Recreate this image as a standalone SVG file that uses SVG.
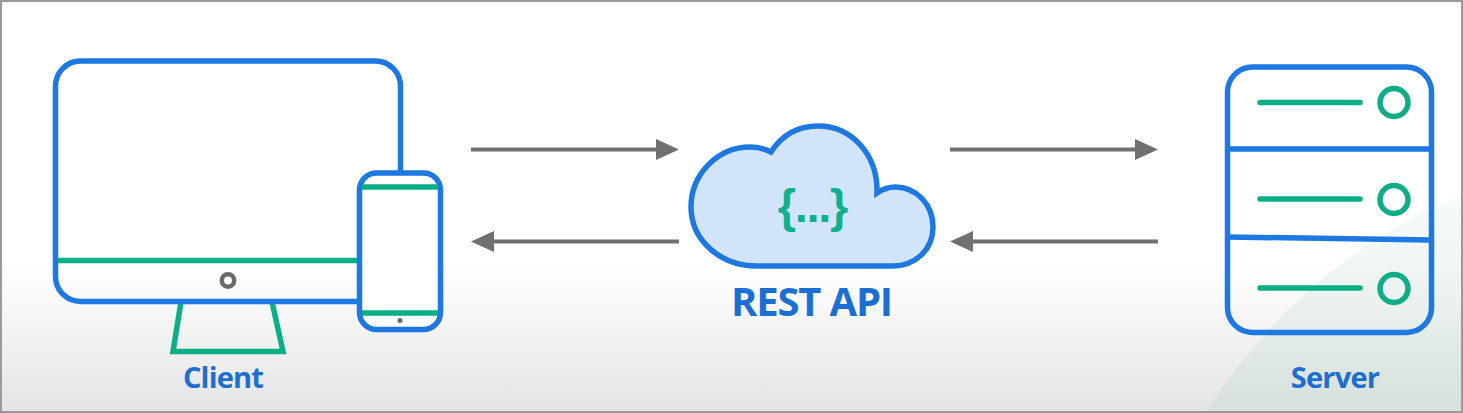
<svg xmlns="http://www.w3.org/2000/svg" width="1463" height="413" viewBox="0 0 1463 413">
<style>
.b{fill:none;stroke:#1e78e2;stroke-width:5.500}
.g{fill:none;stroke:#0cae88;stroke-width:5.500}
.gr{fill:none;stroke:#0cae88;stroke-width:5.500;stroke-linecap:round}
.c{fill:none;stroke:#707070;stroke-width:4}
text{font-family:"Open Sans","Noto Sans",sans-serif;fill:#1c6fd2;text-anchor:middle}
.l{font-size:29px;font-weight:700;letter-spacing:-.8px}
.t{font-size:40px;font-weight:700;letter-spacing:-1.200px}
.j{font-family:"Liberation Sans",Arial,sans-serif;font-size:47px;font-weight:700;letter-spacing:-1.300px;fill:#10b08c}
</style>
<defs>
<linearGradient id="bg" x1="0" y1="0" x2="0" y2="1"><stop offset="0" stop-color="#fff"/><stop offset=".64" stop-color="#fff"/><stop offset="1" stop-color="#e3e4e5"/></linearGradient>
<linearGradient id="sw" x1="0" y1="0" x2="0" y2="1"><stop offset="0" stop-color="#eef8f4" stop-opacity=".6"/><stop offset=".5" stop-color="#e6efeb" stop-opacity=".8"/><stop offset="1" stop-color="#d6dfdb"/></linearGradient>
<marker id="ah" markerUnits="userSpaceOnUse" markerWidth="24" markerHeight="22" refX="13" refY="11" orient="auto-start-reverse"><path d="M0 .5L23 11L0 21.500Z" fill="#707070"/></marker>
</defs>
<rect width="1463" height="413" fill="url(#bg)"/>
<path d="M1205 413C1265 320 1350 240 1463 195V413Z" fill="url(#sw)"/>
<rect x="1" y="1" width="1461" height="411" fill="none" stroke="#9a9a9e" stroke-width="2"/>
<g id="connectors">
<path class="c" d="M471 149.500H669" marker-end="url(#ah)"/>
<path class="c" d="M679 241.500H481" marker-end="url(#ah)"/>
<path class="c" d="M950 149.500H1148" marker-end="url(#ah)"/>
<path class="c" d="M1158 241.500H960" marker-end="url(#ah)"/>
</g>
<g id="client">
<path class="g" d="M181 302L173 351.500H283L272 302"/>
<rect class="b" x="55.500" y="61" width="345" height="240.500" rx="25"/>
<path class="g" d="M58 260.500H358"/>
<circle cx="228" cy="280.500" r="6.200" fill="none" stroke="#6a6a6a" stroke-width="4.500"/>
<rect x="359.500" y="173" width="81" height="156.500" rx="17" fill="#fff"/>
<rect class="b" x="359.500" y="173" width="81" height="156.500" rx="17"/>
<path class="g" d="M362 187H438M362 313H438"/>
<circle cx="400" cy="320.500" r="2.500" fill="#6a6a6a"/>
<text class="l" x="223" y="388">Client</text>
</g>
<g id="rest-api">
<path d="M757 266C720 266 691 240 691 207C691 174 718 147 750 147C758 147 765 149 771 152C782 135 798 126 818 126C852 126 878 155 877 193C883 189 890 187 895 187C917 187 933 205 933 227C933 250 915 266 893 266Z" fill="#d2e4fa" stroke="#1e78e2" stroke-width="5.500"/>
<text class="j" x="812.500" y="222">{...}</text>
<text class="t" x="811.500" y="316">REST API</text>
</g>
<g id="server">
<rect class="b" x="1227.500" y="67" width="204" height="265.500" rx="25"/>
<path class="b" d="M1228 149H1431M1228 237L1431 240"/>
<path class="gr" d="M1260 102.500H1360M1260 199H1360M1260 288H1360"/>
<circle class="g" cx="1394" cy="102.500" r="14"/>
<circle class="g" cx="1394" cy="199.500" r="14"/>
<circle class="g" cx="1394" cy="288.500" r="14"/>
<text class="l" x="1335" y="388">Server</text>
</g>
</svg>
